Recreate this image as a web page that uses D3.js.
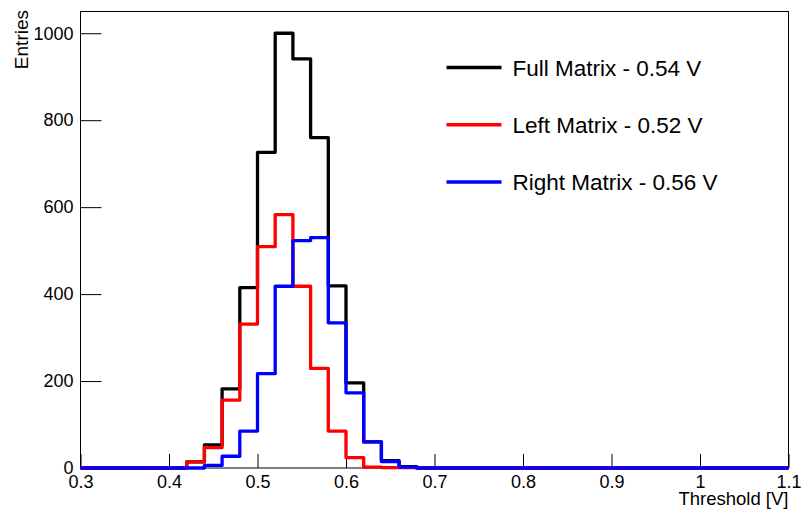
<!DOCTYPE html>
<html>
<head>
<meta charset="utf-8">
<script src="https://cdn.jsdelivr.net/npm/d3@7"></script>
<style>
	body { margin: 0; background: #fff; }
	svg text { font-family: "Liberation Sans", Arial, Helvetica, sans-serif; }
</style>
</head>
<body>
<svg id="chart" width="804" height="509"></svg>
<script>
	//Data------------------------------------------------------------------
	//lower bin edges, width 0.02 V, from 0.3 to 1.1
	var binEdges = [0.30, 0.32, 0.34, 0.36, 0.38, 0.40, 0.42, 0.44, 0.46, 0.48,
		0.50, 0.52, 0.54, 0.56, 0.58, 0.60, 0.62, 0.64, 0.66, 0.68,
		0.70, 0.72, 0.74, 0.76, 0.78, 0.80, 0.82, 0.84, 0.86, 0.88,
		0.90, 0.92, 0.94, 0.96, 0.98, 1.00, 1.02, 1.04, 1.06, 1.08];
	var binEnd = 1.1;

	var fullMatrix = [0, 0, 0, 0, 0, 0, 14, 53, 182, 415,
		726, 1000, 941, 760, 419, 196, 60, 17, 3, 0,
		0, 0, 0, 0, 0, 0, 0, 0, 0, 0,
		0, 0, 0, 0, 0, 0, 0, 0, 0, 0];
	var leftMatrix = [0, 0, 0, 0, 0, 0, 14, 47, 156, 331,
		509, 583, 418, 229, 85, 24, 2, 1, 1, 0,
		0, 0, 0, 0, 0, 0, 0, 0, 0, 0,
		0, 0, 0, 0, 0, 0, 0, 0, 0, 0];
	var rightMatrix = [0, 0, 0, 0, 0, 0, 0, 6, 27, 85,
		217, 418, 523, 530, 334, 173, 60, 15, 2, 0,
		0, 0, 0, 0, 0, 0, 0, 0, 0, 0,
		0, 0, 0, 0, 0, 0, 0, 0, 0, 0];

	var seriesNames = ['Full Matrix - 0.54 V', 'Left Matrix - 0.52 V', 'Right Matrix - 0.56 V'];
	var seriesColors = ['#000000', '#ff0000', '#0000ff'];

	var xMajorTicks = [0.3, 0.4, 0.5, 0.6, 0.7, 0.8, 0.9, 1.0, 1.1];
	var yMajorTicks = [0, 200, 400, 600, 800, 1000];
	var yMax = 1050;

	//Layout----------------------------------------------------------------
	var frame = { left: 80.5, right: 788.5, top: 11.5, bottom: 468 };

	var svg = d3.select('#chart');

	var x = d3.scaleLinear().domain([0.3, 1.1]).range([frame.left, frame.right]);
	var y = d3.scaleLinear().domain([0, yMax]).range([frame.bottom, frame.top]);

	//minor ticks every 0.02 and every 50 entries
	var xMinorTicks = binEdges.concat([binEnd]).filter(function (v) {
		return xMajorTicks.every(function (m) { return Math.abs(m - v) > 1e-6; });
	});
	var yMinorTicks = d3.range(50, yMax + 1, 100);

	//Axes (ticks point into the frame)--------------------------------------
	var gx = svg.append('g').attr('transform', 'translate(0,' + frame.bottom + ')');
	gx.call(d3.axisBottom(x).tickValues(xMinorTicks).tickSize(-7).tickFormat(''));
	gx.call(d3.axisBottom(x).tickValues(xMajorTicks).tickSize(-14).tickPadding(7)
		.tickFormat(function (d) { return String(+d.toFixed(2)); }));

	var gy = svg.append('g').attr('transform', 'translate(' + frame.left + ',0)');
	gy.call(d3.axisLeft(y).tickValues(yMinorTicks).tickSize(-10.5).tickFormat(''));
	gy.call(d3.axisLeft(y).tickValues(yMajorTicks).tickSize(-21).tickPadding(7)
		.tickFormat(function (d) { return String(d); }));

	svg.selectAll('.domain').remove();
	svg.selectAll('.tick line').attr('stroke', '#000').attr('stroke-width', 1);
	svg.selectAll('.tick text').attr('fill', '#000').style('font-size', '18px');

	//Frame
	svg.append('rect')
		.attr('x', frame.left)
		.attr('y', frame.top)
		.attr('width', frame.right - frame.left)
		.attr('height', frame.bottom - frame.top)
		.attr('fill', 'none')
		.attr('stroke', '#000')
		.attr('stroke-width', 1);

	//Axis titles
	svg.append('text')
		.attr('x', frame.right)
		.attr('y', 505)
		.attr('text-anchor', 'end')
		.style('font-size', '18.5px')
		.text('Threshold [V]');

	svg.append('text')
		.attr('transform', 'translate(28,' + 10 + ') rotate(-90)')
		.attr('text-anchor', 'end')
		.style('font-size', '19px')
		.text('Entries');

	//Histograms--------------------------------------------------------------
	var line = d3.line()
		.x(function (d) { return x(d[0]); })
		.y(function (d) { return y(d[1]); })
		.curve(d3.curveStepAfter);

	function histPoints(values) {
		var pts = binEdges.map(function (e, i) { return [e, values[i]]; });
		pts.push([binEnd, values[values.length - 1]]);
		return pts;
	}

	[fullMatrix, leftMatrix, rightMatrix].forEach(function (values, i) {
		svg.append('path')
			.attr('d', line(histPoints(values)))
			.attr('fill', 'none')
			.attr('stroke', seriesColors[i])
			.attr('stroke-width', 3.3)
			.attr('stroke-linejoin', 'round');
	});

	//Legend------------------------------------------------------------------
	var legend = svg.append('g').classed('legend', true);
	seriesNames.forEach(function (name, i) {
		var ly = 67.5 + i * 57.2;
		legend.append('line')
			.attr('x1', 446.5)
			.attr('x2', 501.5)
			.attr('y1', ly)
			.attr('y2', ly)
			.attr('stroke', seriesColors[i])
			.attr('stroke-width', 3.5);
		legend.append('text')
			.attr('x', 512.5)
			.attr('y', ly)
			.attr('dy', '0.36em')
			.style('font-size', '22.5px')
			.text(name);
	});
</script>
</body>
</html>
